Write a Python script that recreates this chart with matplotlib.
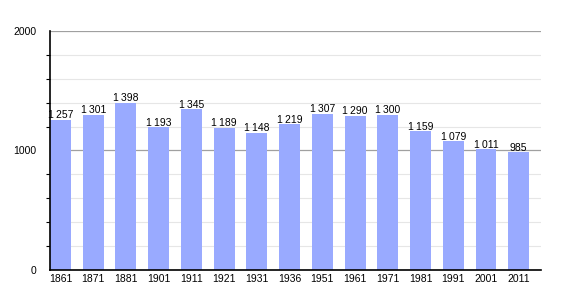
import matplotlib
matplotlib.use("Agg")
import matplotlib.pyplot as plt
import numpy as np
from matplotlib.ticker import MultipleLocator

YEARS = ["1861", "1871", "1881", "1901", "1911", "1921", "1931", "1936",
         "1951", "1961", "1971", "1981", "1991", "2001", "2011"]
POPULATION = [1257, 1301, 1398, 1193, 1345, 1189, 1148, 1219,
              1307, 1290, 1300, 1159, 1079, 1011, 985]

BAR_COLOR = "#99aaff"
BAR_WIDTH = 0.64

plt.rcParams["font.family"] = ["Liberation Sans", "DejaVu Sans"]


def fmt(v):
    """Thousands separated by a thin space, French style."""
    return f"{v:,}".replace(",", "\u2009")


fig = plt.figure(figsize=(5.7, 3.0), dpi=100)
ax = fig.add_axes([0.0877, 0.1, 0.8614, 0.7967])

x = np.arange(len(YEARS))
ax.bar(x, POPULATION, width=BAR_WIDTH, align="edge", color=BAR_COLOR, zorder=2)

for xi, v in zip(x, POPULATION):
    ax.text(xi + BAR_WIDTH / 2, v - 4, fmt(v), ha="center", va="bottom",
            fontsize=7.5, color="black", zorder=3)

ax.set_xlim(0, len(YEARS))
ax.set_ylim(0, 2000)

ax.set_xticks(x + BAR_WIDTH / 2)
ax.set_xticklabels(YEARS, fontsize=7.5)
ax.tick_params(axis="x", length=0, pad=3)

ax.yaxis.set_major_locator(MultipleLocator(1000))
ax.yaxis.set_minor_locator(MultipleLocator(200))
ax.tick_params(axis="y", which="major", labelsize=7.5, length=0, pad=10)
ax.tick_params(axis="y", which="minor", length=3, width=0.8, color="black")
ax.grid(axis="y", which="major", color="#a0a0a0", linewidth=0.9, zorder=1)
ax.grid(axis="y", which="minor", color="#e6e6e6", linewidth=0.8, zorder=1)

for side in ["top", "right"]:
    ax.spines[side].set_visible(False)
for side in ["left", "bottom"]:
    ax.spines[side].set_linewidth(1.2)
    ax.spines[side].set_zorder(4)

plt.savefig("out.png", dpi=100)
plt.close()
